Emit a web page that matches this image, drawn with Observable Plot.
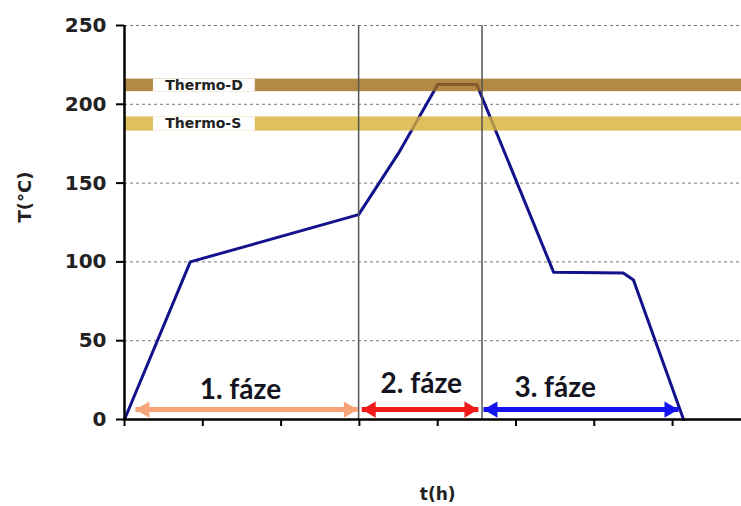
<!DOCTYPE html>
<html>
<head>
<meta charset="utf-8">
<script src="https://cdn.jsdelivr.net/npm/d3@7"></script>
<script src="https://cdn.jsdelivr.net/npm/@observablehq/plot@0.6"></script>
<style>
  html, body { margin: 0; padding: 0; background: #fff; }
</style>
</head>
<body>
<div id="chart"></div>
<script>
// ---- data ----
const timeH = [0, 0.84, 2.99, 3.5, 4.0, 4.5, 5.48, 6.37, 6.5, 7.14];
const tempC = [0, 100, 130, 169, 212.5, 212.5, 93.5, 93, 88.5, 0];

const bandNames = ["Thermo-D", "Thermo-S"];
const bandLow = [208, 183];
const bandHigh = [216, 192];
const bandColors = ["#a06d16", "#d7b036"];
const bandLabelGap = [0.37, 1.67];   // white box behind the band label (x from/to)
const bandLabelX = 0.52;

const phaseLabels = ["1. fáze", "2. fáze", "3. fáze"];
const phaseStart = [0.14, 3.03, 4.585];
const phaseEnd = [2.98, 4.52, 7.075];
const phaseColors = ["#f8a47a", "#f01a1a", "#1414f0"];
const phaseLabelX = [1.48, 3.79, 5.5];
const phaseLabelY = [13.3, 16.5, 14];
const arrowLevel = 6.3;

const phaseBoundaries = [2.99, 4.566];

const yTicks = [0, 50, 100, 150, 200, 250];
const xTicks = [0, 1, 2, 3, 4, 5, 6, 7];
const xMax = 7.88;
const yTitle = "T(°C)";
const xTitle = "t(h)";
const xTitlePos = 4.0;

// ---- tables built from arrays ----
const profile = timeH.map((t, i) => ({t, T: tempC[i]}));
const bands = bandNames.map((name, i) => ({
  name, lo: bandLow[i], hi: bandHigh[i], mid: (bandLow[i] + bandHigh[i]) / 2,
  color: bandColors[i], gap1: bandLabelGap[0], gap2: bandLabelGap[1], lx: bandLabelX, x0: 0, x1: xMax
}));
const phases = phaseLabels.map((label, i) => ({
  label, start: phaseStart[i], end: phaseEnd[i], color: phaseColors[i],
  lx: phaseLabelX[i], ly: phaseLabelY[i], ay: arrowLevel
}));

const chart = Plot.plot({
  width: 741,
  height: 506,
  marginLeft: 124,
  marginRight: 0,
  marginTop: 25,
  marginBottom: 87,
  style: {fontFamily: "DejaVu Sans", background: "white", color: "black"},
  x: {domain: [0, xMax], axis: null},
  y: {domain: [0, 250], axis: null},
  marks: [
    Plot.gridY(yTicks.filter(v => v > 0), {stroke: "#777", strokeOpacity: 1, strokeDasharray: "3,3", strokeWidth: 1}),
    Plot.line(profile, {x: "t", y: "T", stroke: "#12128c", strokeWidth: 3, strokeLinejoin: "round"}),
    Plot.rect(bands, {x1: "x0", x2: "x1", y1: "lo", y2: "hi", fill: "color", fillOpacity: 0.8}),
    Plot.rect(bands, {x1: "gap1", x2: "gap2", y1: "lo", y2: "hi", fill: "white"}),
    Plot.text(bands, {x: "lx", y: "mid", text: "name", textAnchor: "start", lineAnchor: "middle",
      fontSize: 14, fontWeight: "bold", fill: "#222", fontFamily: "DejaVu Sans"}),
    Plot.ruleX(phaseBoundaries, {y1: 0, y2: 250, stroke: "#555", strokeWidth: 1.5}),
    Plot.ruleX([0], {stroke: "black", strokeWidth: 2.5}),
    Plot.ruleY([0], {stroke: "black", strokeWidth: 2.5}),
    Plot.axisY({ticks: yTicks, tickSize: 8, tickPadding: 10, fontSize: 20, fontWeight: "bold",
      strokeWidth: 2, label: null, fill: "#222"}),
    Plot.axisX({ticks: xTicks, tickSize: 7, tickFormat: () => "", strokeWidth: 2, label: null}),
    // phase arrows
    Plot.link(phases, {x1: "start", x2: "end", y1: "ay", y2: "ay", stroke: "color", strokeWidth: 5}),
    Plot.dot(phases, {x: "start", y: "ay", symbol: "triangle", r: 6, rotate: -90, dx: 9.3, fill: "color", stroke: null}),
    Plot.dot(phases, {x: "end", y: "ay", symbol: "triangle", r: 6, rotate: 90, dx: -9.3, fill: "color", stroke: null}),
    Plot.text(phases, {x: "lx", y: "ly", text: "label", textAnchor: "middle", lineAnchor: "bottom",
      fontSize: 28, fontWeight: "bold", fontFamily: "Lato", fill: "#141420"}),
    // axis titles
    Plot.text([yTitle], {frameAnchor: "left", dx: -99, rotate: -90, fontSize: 18, fontWeight: "bold", fill: "#222"}),
    Plot.text([xTitle], {x: [xTitlePos], frameAnchor: "bottom", dy: 80, lineAnchor: "bottom",
      fontSize: 17, fontWeight: "bold", fill: "#222"})
  ]
});
document.getElementById("chart").appendChild(chart);
</script>
</body>
</html>
